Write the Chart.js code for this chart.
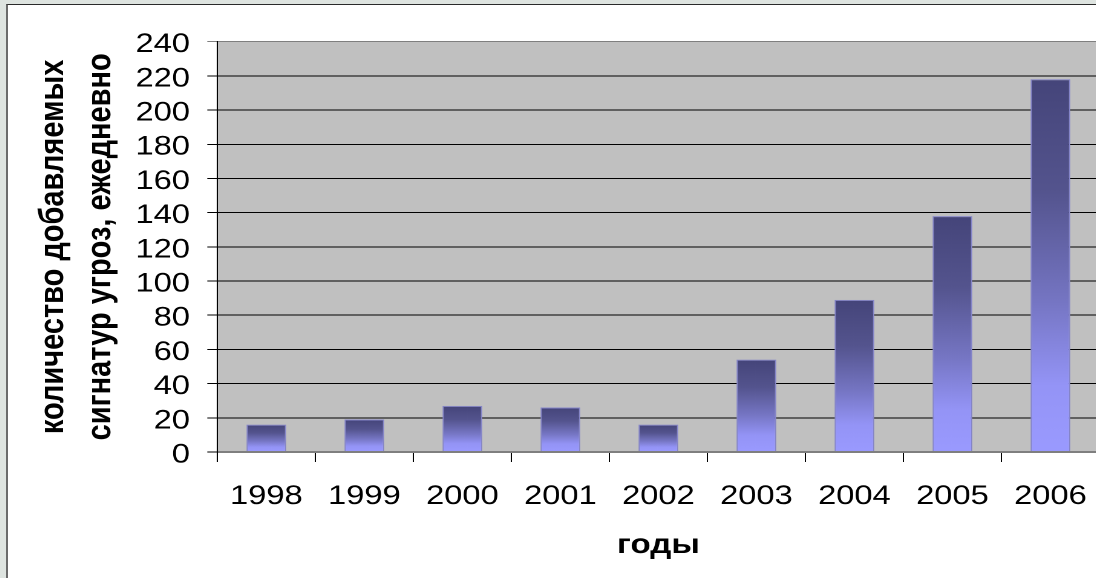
<!DOCTYPE html>
<html lang="ru">
<head>
<meta charset="utf-8">
<title>Сигнатуры угроз</title>
<script src="https://cdn.jsdelivr.net/npm/chart.js@4/dist/chart.umd.min.js"></script>
<style>
  html, body { margin: 0; padding: 0; width: 1096px; height: 578px; overflow: hidden; background: #dee4e0; }
  #frame {
    position: absolute; left: 6px; top: 4px; width: 1090px; height: 574px;
    background: #ffffff; border-left: 2px solid #6b6b6b; border-top: 1px solid #2a2a2a;
    overflow: hidden;
  }
  /* the slide art is drawn wide: the chart is rendered narrower and stretched horizontally */
  #wrap { position: absolute; left: 0; top: 0; transform: scaleX(1.21); transform-origin: 0 0; }
  canvas { display: block; }
</style>
</head>
<body>
<div id="frame"><div id="wrap"><canvas id="chart" width="902" height="573"></canvas></div></div>
<script>
// Years on the category axis
const years = ['1998', '1999', '2000', '2001', '2002', '2003', '2004', '2005', '2006'];
// Threat signatures added per day
const signaturesPerDay = [16, 19, 27, 26, 16, 54, 89, 138, 218];
// Value axis range and step
const yMin = 0;
const yMax = 240;
const yStep = 20;
// Axis titles
const xTitle = 'годы';
const yTitle = ['количество добавляемых', 'сигнатур угроз, ежедневно'];

const FONT = '"Liberation Sans", Arial, sans-serif';

// Silver plot background
const plotBackground = {
  id: 'plotBackground',
  beforeDraw(chart) {
    const { ctx, chartArea: a } = chart;
    ctx.save();
    ctx.fillStyle = '#c0c0c0';
    ctx.fillRect(a.left, a.top, a.right - a.left, a.bottom - a.top);
    ctx.restore();
  }
};

// Each bar gets its own dark-to-light vertical gradient
function barGradient(c) {
  const chart = c.chart;
  const y = chart.scales && chart.scales.y;
  if (!y || c.raw == null) return '#7777cc';
  const top = y.getPixelForValue(c.raw);
  const base = y.getPixelForValue(0);
  if (!isFinite(top) || !isFinite(base) || base - top < 1) return '#7777cc';
  const g = chart.ctx.createLinearGradient(0, top, 0, base);
  g.addColorStop(0, '#45457a');
  g.addColorStop(0.3, '#54548e');
  g.addColorStop(0.6, '#7676c4');
  g.addColorStop(0.82, '#9494f6');
  g.addColorStop(1, '#9a9aff');
  return g;
}

const gridColor = (c) => (c.tick && (c.tick.value === yMax || c.tick.value === yMin)) ? '#7f7f7f' : '#000000';
const gridWidth = (c) => (c.tick && c.tick.value === yMin) ? 2 : 1;

new Chart(document.getElementById('chart'), {
  type: 'bar',
  data: {
    labels: years,
    datasets: [{
      data: signaturesPerDay,
      backgroundColor: barGradient,
      borderColor: '#8484c8',
      borderWidth: 1,
      barPercentage: 0.405,
      categoryPercentage: 1.0
    }]
  },
  options: {
    responsive: false,
    animation: false,
    devicePixelRatio: 2,
    layout: { padding: { top: 36.7, left: 0, right: 0, bottom: 0 } },
    plugins: { legend: { display: false }, tooltip: { enabled: false } },
    scales: {
      x: {
        offset: true,
        grid: { display: true, drawOnChartArea: false, drawTicks: true, tickLength: 10, color: '#000000', tickColor: '#000000', lineWidth: 1, offset: true },
        border: { display: false },
        ticks: { color: '#000000', font: { family: FONT, size: 27 }, padding: 18.5, autoSkip: false, maxRotation: 0 },
        title: { display: true, text: xTitle, color: '#000000', font: { family: FONT, size: 27.5, weight: 'bold', lineHeight: 1.2 }, padding: { top: 0, bottom: 16.2 } },
        afterFit(scale) {
          scale.height = 126;
          scale.paddingLeft = 0;
          scale.paddingRight = 0;
        }
      },
      y: {
        min: yMin,
        max: yMax,
        ticks: { stepSize: yStep, autoSkip: false, color: '#000000', font: { family: FONT, size: 27 }, padding: 14.3, labelOffset: 3 },
        grid: { color: gridColor, tickColor: gridColor, lineWidth: gridWidth, drawTicks: true, tickLength: 8.3 },
        border: { display: true, color: '#000000', width: 1 },
        title: { display: true, text: yTitle, color: '#000000', font: { family: FONT, size: 29, weight: 'bold', lineHeight: 1.338 }, padding: { top: 18.2, bottom: 0 } },
        afterFit(scale) { scale.width = 173; }
      }
    }
  },
  plugins: [plotBackground]
});
</script>
</body>
</html>
